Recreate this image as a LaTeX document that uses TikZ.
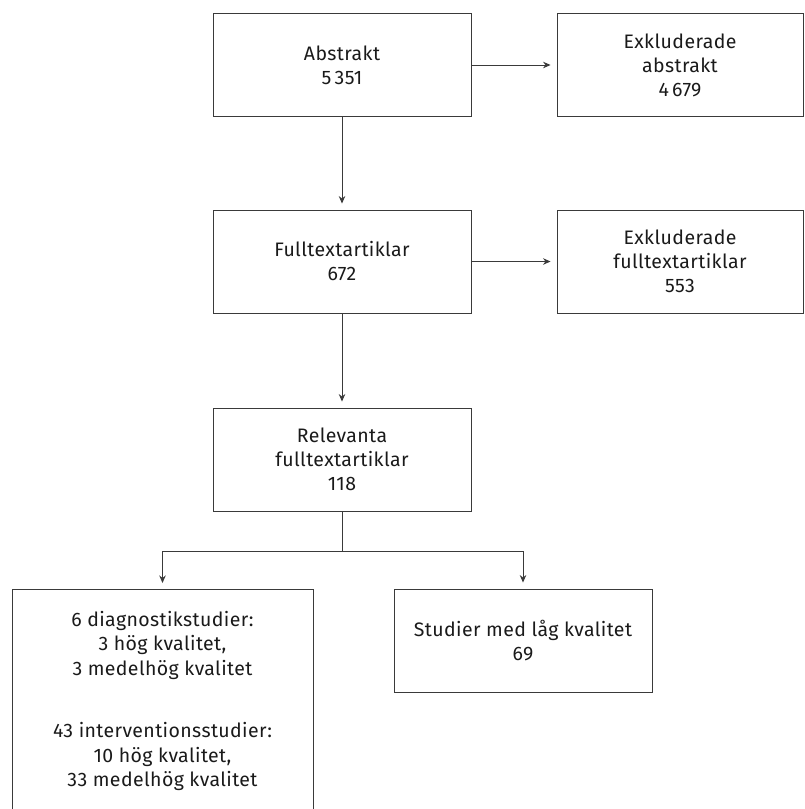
\documentclass[tikz,border=0pt]{standalone}
\usepackage{fontspec}
\setmainfont{Fira Sans}[LetterSpace=2]
\usetikzlibrary{arrows.meta}
\definecolor{linec}{HTML}{3A3A3A}
\definecolor{textc}{HTML}{1A1A1A}
\begin{document}
\begin{tikzpicture}[x=1pt,y=-1pt,
  box/.style={draw=linec, line width=0.9pt, minimum height=103pt, align=center,
    inner sep=0pt, text=textc, font=\fontsize{19.5}{24}\selectfont},
  conn/.style={draw=linec, line width=0.9pt},
  arr/.style={conn, -{Stealth[length=7.5pt,width=6.5pt]}, shorten >=6pt}]
\useasboundingbox (0,0) rectangle (804,809);

\node[box, minimum width=258pt] (abs) at (342,65) {Abstrakt\\5\,351};
\node[box, minimum width=246pt] (exa) at (680,65) {Exkluderade\\abstrakt\\4\,679};
\node[box, minimum width=258pt] (ft) at (342,261.5) {Fulltextartiklar\\672};
\node[box, minimum width=246pt] (exf) at (680,261.5) {Exkluderade\\fulltextartiklar\\553};
\node[box, minimum width=258pt] (rel) at (342,459.5) {Relevanta\\fulltextartiklar\\118};
\node[box, minimum width=301pt, minimum height=223pt, anchor=north,
  font=\fontsize{19.5}{24.5}\selectfont] (lq) at (162.5,589)
  {6 diagnostikstudier:\\3 hög kvalitet,\\3 medelhög kvalitet\\[38pt]43 interventionsstudier:\\10 hög kvalitet,\\33 medelhög kvalitet};
\node[box, minimum width=258pt] (low) at (523,640.5) {Studier med låg kvalitet\\69};

\draw[arr] (abs.east) -- (exa.west);
\draw[arr] (abs.south) -- (ft.north);
\draw[arr] (ft.east) -- (exf.west);
\draw[arr] (ft.south) -- (rel.north);
\coordinate (split) at (342,551);
\draw[conn] (rel.south) -- (split);
\draw[arr] (split) -| (lq.north);
\draw[arr] (split) -| (low.north);
\end{tikzpicture}
\end{document}
